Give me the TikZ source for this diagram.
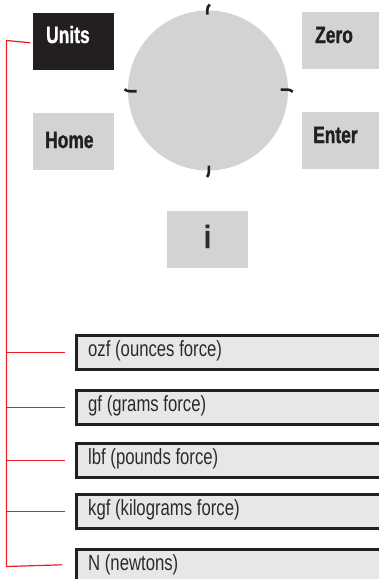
\documentclass[tikz,border=0pt]{standalone}
\usepackage{fontspec}
\setmainfont{Liberation Sans}
\newfontfamily\cond[FakeStretch=0.76]{Liberation Sans}
\newfontfamily\condb[FakeStretch=0.74,FakeBold=1.2]{Liberation Sans Bold}
\definecolor{btngray}{HTML}{D1D3D4}
\definecolor{unitfill}{HTML}{E6E7E8}
\definecolor{darkk}{HTML}{231F20}
\definecolor{redl}{HTML}{ED1C24}
\definecolor{txtgray}{HTML}{2B2B2B}
\tikzset{
  btn/.style={rectangle, fill=btngray, draw=none, anchor=north west, minimum width=81pt, minimum height=57pt, inner sep=0pt},
  btnlbl/.style={anchor=base west, inner sep=0pt, font=\condb\fontsize{23.5}{23.5}\selectfont, text=darkk},
  unitbox/.style={rectangle, fill=unitfill, draw=darkk, line width=2.6pt, anchor=north west, minimum width=320pt, minimum height=34pt, inner sep=0pt},
  unitlbl/.style={anchor=west, inner sep=0pt, font=\cond\fontsize{22}{22}\selectfont, text=txtgray},
  redline/.style={draw=redl, line width=1.2pt},
  tick/.style={draw=darkk, line width=2.6pt, line cap=butt},
}
\begin{document}
\begin{tikzpicture}[x=1pt,y=-1pt]
\useasboundingbox (0,0) rectangle (379,579);
% buttons
\node[btn, fill=darkk] (units) at (33,13) {};
\node[btnlbl, text=white] (unitsT) at (46,43) {Units};
\node[btn] (home) at (33,113) {};
\node[btnlbl] (homeT) at (45,148) {Home};
\node[btn, minimum width=90pt] (zero) at (302,12) {};
\node[btnlbl] (zeroT) at (315,43) {Zero};
\node[btn, minimum width=90pt] (enter) at (302,112) {};
\node[btnlbl] (enterT) at (313,143) {Enter};
\node[btn] (info) at (167,211) {};
\node[anchor=base, inner sep=0pt, font=\condb\fontsize{32}{32}\selectfont, text=txtgray] (infoT) at (207.5,248) {i};
% dial
\node[circle, fill=btngray, minimum size=160pt, inner sep=0pt] (dial) at (208,90.5) {};
\draw[tick] (209.8,4.5) .. controls (207.8,6) and (207.3,8) .. (207.3,10.5) -- (207.3,14.5);
\draw[tick] (208.8,165.5) -- (208.8,172) .. controls (208.8,174) and (208.3,175.5) .. (207,177);
\draw[tick] (136.5,91.2) -- (129.5,91.2) .. controls (127.5,91.2) and (126,90.5) .. (124.5,89.3);
\draw[tick] (280.5,89.6) -- (287.5,89.6) .. controls (289.5,89.6) and (291,90.3) .. (292.8,91.8);
% unit boxes
\node[unitbox] (u1) at (75,334) {};
\node[unitlbl] (u1T) at (88,351) {ozf (ounces force)};
\node[unitbox] (u2) at (75,389) {};
\node[unitlbl] (u2T) at (88,406) {gf (grams force)};
\node[unitbox] (u3) at (75,442) {};
\node[unitlbl] (u3T) at (88,459) {lbf (pounds force)};
\node[unitbox] (u4) at (75,493) {};
\node[unitlbl] (u4T) at (88,510) {kgf (kilograms force)};
\node[unitbox] (u5) at (75,548) {};
\node[unitlbl] (u5T) at (88,565) {N (newtons)};
% bracket
\coordinate (brtop) at (6.5,40.5);
\coordinate (brbot) at (6.5,566.5);
\draw[redline] ([xshift=-3pt,yshift=-1pt]units.west) -- (brtop) -- (brbot) -- ([xshift=-13pt,yshift=1.5pt]u5.west);
\foreach \u in {u1,u2,u3,u4}{
  \draw[redline] (brtop |- \u.west) -- ([xshift=-10pt]\u.west);
}
\end{tikzpicture}
\end{document}
